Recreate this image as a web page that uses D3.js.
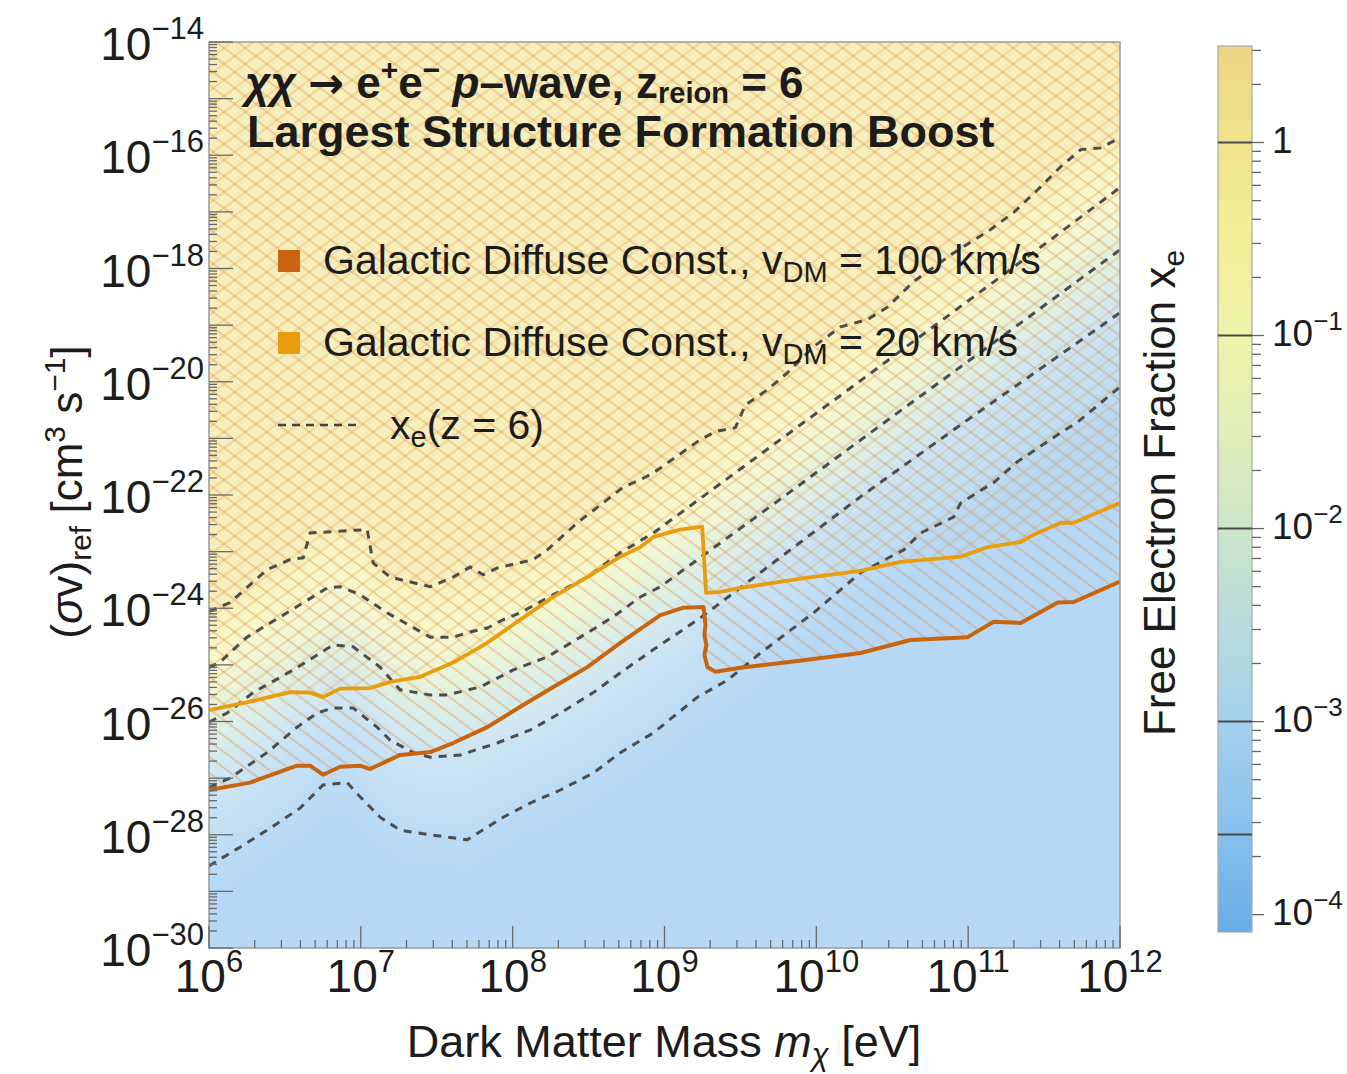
<!DOCTYPE html>
<html>
<head>
<meta charset="utf-8">
<script src="https://cdn.jsdelivr.net/npm/d3@7"></script>
<style>
  body { margin: 0; background: #fff; }
  svg { display: block; }
  text { font-family: "Liberation Sans", Arial, Helvetica, sans-serif; fill: #1c1c1c; }
</style>
</head>
<body>
<svg id="chart" width="1347" height="1074"></svg>
<script>
// ---- Data: [log10(m_chi / eV), log10(<sigma v>_ref / cm^3 s^-1)] ----

// Galactic diffuse constraint, v_DM = 100 km/s
const limit100 = [[6.000,-27.21],[6.270,-27.08],[6.580,-26.78],[6.666,-26.78],[6.751,-26.94],[6.864,-26.80],
  [6.995,-26.78],[7.061,-26.84],[7.259,-26.59],[7.457,-26.54],[7.608,-26.38],[7.833,-26.10],[8.050,-25.74],
  [8.268,-25.39],[8.492,-25.04],[8.709,-24.61],[8.973,-24.12],[9.125,-23.99],[9.257,-23.98],[9.270,-24.29],
  [9.263,-24.47],[9.276,-24.65],[9.263,-24.82],[9.283,-25.04],[9.336,-25.12],[9.500,-25.05],[9.942,-24.91],
  [10.291,-24.79],[10.621,-24.56],[10.997,-24.51],[11.168,-24.24],[11.346,-24.26],[11.590,-23.90],
  [11.695,-23.89],[12.000,-23.53]];

// Galactic diffuse constraint, v_DM = 20 km/s
const limit20 = [[6.000,-25.80],[6.270,-25.65],[6.534,-25.48],[6.666,-25.49],[6.751,-25.57],[6.864,-25.42],
  [7.061,-25.41],[7.193,-25.30],[7.391,-25.21],[7.608,-24.96],[7.833,-24.61],[8.050,-24.20],[8.268,-23.80],
  [8.492,-23.45],[8.709,-23.09],[8.841,-22.92],[8.927,-22.74],[9.105,-22.61],[9.248,-22.56],[9.274,-23.73],
  [9.369,-23.71],[9.500,-23.64],[9.942,-23.46],[10.291,-23.34],[10.555,-23.18],[10.951,-23.09],
  [11.129,-22.92],[11.346,-22.83],[11.432,-22.70],[11.610,-22.49],[11.695,-22.49],[12.000,-22.14]];

// Contours of the free electron fraction x_e at z = 6
const contourLevels = [1, 0.1, 0.01, 1e-3, 2.6e-4];
const contourXe1 = [[6.000,-24.06],[6.138,-23.90],[6.382,-23.32],[6.534,-23.14],[6.620,-23.11],[6.666,-22.67],
  [7.042,-22.61],[7.081,-23.20],[7.193,-23.45],[7.457,-23.62],[7.608,-23.45],[7.720,-23.27],[7.806,-23.41],
  [7.898,-23.29],[8.136,-23.14],[8.228,-22.97],[8.426,-22.49],[8.624,-22.08],[8.729,-21.86],[8.841,-21.73],
  [8.927,-21.61],[9.237,-21.02],[9.336,-20.88],[9.467,-20.81],[9.533,-20.41],[9.678,-20.14],[9.810,-19.84],
  [9.982,-19.38],[10.160,-19.03],[10.338,-18.90],[10.469,-18.68],[10.641,-18.23],[10.885,-17.76],
  [11.148,-17.31],[11.300,-17.01],[11.458,-16.61],[11.610,-16.20],[11.742,-15.90],[11.873,-15.87],[12.000,-15.69]];
const contourXe01 = [[6.000,-25.05],[6.073,-24.95],[6.250,-24.51],[6.514,-24.08],[6.778,-23.64],[6.864,-23.62],
  [6.995,-23.76],[7.173,-24.08],[7.457,-24.51],[7.608,-24.51],[7.720,-24.42],[7.833,-24.35],[7.938,-24.20],
  [8.050,-24.08],[8.268,-23.76],[8.492,-23.45],[8.709,-23.02],[8.927,-22.67],[9.566,-21.41],[10.226,-20.11],
  [10.885,-18.80],[11.544,-17.49],[12.000,-16.57]];
const contourXe001 = [[6.000,-26.01],[6.119,-25.85],[6.290,-25.49],[6.554,-25.09],[6.817,-24.65],[6.949,-24.68],
  [7.127,-25.04],[7.259,-25.44],[7.457,-25.53],[7.569,-25.53],[7.786,-25.39],[8.004,-25.09],[8.228,-24.86],
  [8.446,-24.51],[8.663,-24.15],[8.841,-23.80],[8.973,-23.62],[9.632,-22.33],[10.555,-20.51],[11.214,-19.22],
  [12.000,-17.67]];
const contourXe0001 = [[6.000,-27.16],[6.138,-27.00],[6.382,-26.55],[6.580,-26.10],[6.712,-25.85],[6.817,-25.76],
  [6.949,-25.76],[7.107,-26.10],[7.193,-26.33],[7.345,-26.55],[7.457,-26.63],[7.655,-26.59],[7.898,-26.38],
  [8.116,-26.15],[8.314,-25.85],[8.531,-25.49],[8.709,-25.14],[8.927,-24.73],[9.237,-24.17],[10.291,-22.03],
  [10.951,-20.76],[12.000,-18.78]];
const contourXe00026 = [[6.000,-28.55],[6.204,-28.22],[6.382,-27.92],[6.600,-27.53],[6.751,-27.12],[6.910,-27.08],
  [6.995,-27.33],[7.127,-27.69],[7.259,-27.92],[7.457,-28.00],[7.701,-28.09],[7.938,-27.69],[8.116,-27.44],
  [8.314,-27.21],[8.531,-26.91],[8.709,-26.55],[8.927,-26.20],[9.217,-25.57],[9.415,-25.27],[9.632,-24.79],
  [9.982,-24.08],[10.291,-23.37],[10.575,-22.97],[10.687,-22.67],[10.904,-22.39],[10.951,-22.14],
  [11.168,-21.78],[11.326,-21.41],[11.610,-20.90],[11.722,-20.71],[12.000,-20.09]];

// Axis ticks
const massTicks = [1e6, 1e7, 1e8, 1e9, 1e10, 1e11, 1e12];
const svLabelExp = [-14, -16, -18, -20, -22, -24, -26, -28, -30];
const barLabels = [{v: 1, t: "1"}, {v: 1e-1, e: "−1"}, {v: 1e-2, e: "−2"}, {v: 1e-3, e: "−3"}, {v: 1e-4, e: "−4"}];

// Colour map for x_e (log10 stops)
const cmapStops = [-4.09, -3.5, -3.0, -2.5, -2.0, -1.5, -1.0, -0.5, 0.0, 0.5];
const cmapColors = ["#68ace8","#8cc3ee","#a5d0ec","#b8dcdc","#cde5c9","#e0eeb8","#eef3a8","#f2ee98","#f1e38c","#edd585"];

// ---- Layout ----
const svg = d3.select("#chart");
const X0 = 209, X1 = 1120, Y0 = 42, Y1 = 948;
const x = d3.scaleLog().domain([1e6, 1e12]).range([X0, X1]);
const y = d3.scaleLog().domain([1e-30, 1e-14]).range([Y1, Y0]);
const cmap = d3.scaleLinear().domain(cmapStops).range(cmapColors).interpolate(d3.interpolateRgb).clamp(true);
const toXY = p => [x(10 ** p[0]), y(10 ** p[1])];

const defs = svg.append("defs");
defs.append("clipPath").attr("id", "plotClip")
  .append("rect").attr("x", X0).attr("y", Y0).attr("width", X1 - X0).attr("height", Y1 - Y0);

// ---- x_e field, interpolated between the contour curves ----
const contours = [contourXe1, contourXe01, contourXe001, contourXe0001, contourXe00026];
const levelsLog = contourLevels.map(Math.log10);
function lineAt(pts, lm) {
  if (lm <= pts[0][0]) return pts[0][1];
  for (let k = 0; k < pts.length - 1; k++) {
    const a = pts[k], b = pts[k + 1];
    if (lm >= a[0] && lm <= b[0]) {
      if (b[0] === a[0]) return a[1];
      return a[1] + (lm - a[0]) / (b[0] - a[0]) * (b[1] - a[1]);
    }
  }
  return pts[pts.length - 1][1];
}
function logXe(ls, c) {
  if (ls >= c[0]) return Math.min(0.12, levelsLog[0] + (ls - c[0]) * 0.2);
  for (let k = 0; k < c.length - 1; k++) {
    if (ls >= c[k + 1]) {
      return levelsLog[k + 1] + (ls - c[k + 1]) / (c[k] - c[k + 1]) * (levelsLog[k] - levelsLog[k + 1]);
    }
  }
  return Math.max(-3.72, levelsLog[4] - (c[4] - ls) * 0.25);
}
const W = X1 - X0, H = Y1 - Y0;
const canvas = document.createElement("canvas");
canvas.width = W; canvas.height = H;
const ctx = canvas.getContext("2d");
const img = ctx.createImageData(W, H);
const lut = d3.range(600).map(i => d3.rgb(cmap(-4.09 + i / 599 * 4.59)));
const fieldAlpha = 0.56;
for (let i = 0; i < W; i++) {
  const lm = Math.log10(x.invert(X0 + i + 0.5));
  const c = contours.map(pts => lineAt(pts, lm));
  for (let j = 0; j < H; j++) {
    const ls = Math.log10(y.invert(Y0 + j + 0.5));
    const v = logXe(ls, c);
    const col = lut[Math.max(0, Math.min(599, Math.round((v + 4.09) / 4.59 * 599)))];
    const o = (j * W + i) * 4;
    img.data[o] = 255 + (col.r - 255) * fieldAlpha;
    img.data[o + 1] = 255 + (col.g - 255) * fieldAlpha;
    img.data[o + 2] = 255 + (col.b - 255) * fieldAlpha;
    img.data[o + 3] = 255;
  }
}
ctx.putImageData(img, 0, 0);
svg.append("image").attr("x", X0).attr("y", Y0).attr("width", W).attr("height", H)
  .attr("preserveAspectRatio", "none").attr("href", canvas.toDataURL());

// ---- Hatched exclusion regions ----
function hatch(id, angle, color) {
  const p = defs.append("pattern").attr("id", id).attr("patternUnits", "userSpaceOnUse")
    .attr("width", 60).attr("height", 12.8).attr("patternTransform", `rotate(${angle})`);
  p.append("line").attr("x1", 0).attr("x2", 60).attr("y1", 6.4).attr("y2", 6.4)
    .attr("stroke", color).attr("stroke-width", 1.7);
}
hatch("hatch100", 36.87, "rgba(210,125,48,0.4)");
hatch("hatch20", -36.87, "rgba(232,155,48,0.4)");
const plot = svg.append("g").attr("clip-path", "url(#plotClip)");
function regionAbove(pts) {
  const xy = pts.map(toXY);
  return "M" + xy.map(d => d.join(",")).join("L") + `L${X1 + 2},${Y0 - 2}L${X0 - 2},${Y0 - 2}Z`;
}
plot.append("path").attr("d", regionAbove(limit100)).attr("fill", "url(#hatch100)");
plot.append("path").attr("d", regionAbove(limit20)).attr("fill", "url(#hatch20)");

// ---- Contour lines ----
const line = d3.line().x(d => x(10 ** d[0])).y(d => y(10 ** d[1]));
contours.forEach(pts => {
  plot.append("path").attr("d", line(pts)).attr("fill", "none")
    .attr("stroke", "#4d4d4d").attr("stroke-width", 3).attr("stroke-dasharray", "8,7");
});

// ---- Constraint curves ----
plot.append("path").attr("d", line(limit100)).attr("fill", "none")
  .attr("stroke", "#c9650e").attr("stroke-width", 4).attr("stroke-linejoin", "round");
plot.append("path").attr("d", line(limit20)).attr("fill", "none")
  .attr("stroke", "#e89d0e").attr("stroke-width", 3.8).attr("stroke-linejoin", "round");

// ---- Frame and ticks ----
svg.append("rect").attr("x", X0).attr("y", Y0).attr("width", W).attr("height", H)
  .attr("fill", "none").attr("stroke", "#9a9a9a").attr("stroke-width", 1.5);
const tickG = svg.append("g").attr("stroke", "#6a6a6a").attr("stroke-width", 1.3);
for (let e = -30; e <= -14; e++) {
  tickG.append("line").attr("x1", X0).attr("x2", X0 + 24).attr("y1", y(10 ** e)).attr("y2", y(10 ** e));
  if (e < -14) for (let k = 2; k <= 9; k++) {
    const yy = y(k * 10 ** e);
    tickG.append("line").attr("x1", X0).attr("x2", X0 + 8).attr("y1", yy).attr("y2", yy);
  }
}
for (let e = 6; e <= 12; e++) {
  tickG.append("line").attr("y1", Y1).attr("y2", Y1 - 22).attr("x1", x(10 ** e)).attr("x2", x(10 ** e));
  if (e < 12) for (let k = 2; k <= 9; k++) {
    const xx = x(k * 10 ** e);
    tickG.append("line").attr("y1", Y1).attr("y2", Y1 - 8).attr("x1", xx).attr("x2", xx);
  }
}

// Tick labels
svLabelExp.forEach(e => {
  const t = svg.append("text").attr("x", 204).attr("y", y(10 ** e) + 18).attr("text-anchor", "end");
  t.append("tspan").attr("font-size", 46).text("10");
  t.append("tspan").attr("font-size", 31).attr("dy", -21).text("−" + (-e));
});
massTicks.forEach(v => {
  const e = Math.round(Math.log10(v));
  const t = svg.append("text").attr("x", x(v)).attr("y", 992).attr("text-anchor", "middle");
  t.append("tspan").attr("font-size", 46).text("10");
  t.append("tspan").attr("font-size", 31).attr("dy", -20).text(e);
});

// Axis titles
const xt = svg.append("text").attr("x", 664).attr("y", 1057).attr("text-anchor", "middle").attr("font-size", 45);
xt.append("tspan").text("Dark Matter Mass ");
xt.append("tspan").attr("font-style", "italic").text("m");
xt.append("tspan").attr("font-style", "italic").attr("font-size", 31).attr("dy", 8).text("χ");
xt.append("tspan").attr("dy", -8).text(" [eV]");

const yt = svg.append("text").attr("transform", "translate(82,492) rotate(-90)")
  .attr("text-anchor", "middle").attr("font-size", 44);
yt.append("tspan").text("(");
yt.append("tspan").attr("font-style", "italic").text("σ");
yt.append("tspan").text("v)");
yt.append("tspan").attr("font-size", 30).attr("dy", 9).text("ref");
yt.append("tspan").attr("dy", -9).text(" [cm");
yt.append("tspan").attr("font-size", 30).attr("dy", -17).text("3");
yt.append("tspan").attr("dy", 17).text(" s");
yt.append("tspan").attr("font-size", 30).attr("dy", -17).text("−1");
yt.append("tspan").attr("dy", 17).text("]");

// ---- Title ----
const t1 = svg.append("text").attr("x", 245).attr("y", 98).attr("font-size", 44).attr("font-weight", "bold");
t1.append("tspan").attr("font-style", "italic").text("χχ");
t1.append("tspan").text(" ");
t1.append("tspan").attr("font-family", "'DejaVu Sans', sans-serif").attr("font-size", 43).text("→");
t1.append("tspan").text(" e");
t1.append("tspan").attr("font-size", 30).attr("dy", -18).text("+");
t1.append("tspan").attr("dy", 18).text("e");
t1.append("tspan").attr("font-size", 30).attr("dy", -18).text("−");
t1.append("tspan").attr("dy", 18).text(" ");
t1.append("tspan").attr("font-style", "italic").text("p");
t1.append("tspan").text("–wave, z");
t1.append("tspan").attr("font-size", 29).attr("dy", 5).text("reion");
t1.append("tspan").attr("dy", -5).text(" = 6");
svg.append("text").attr("x", 247).attr("y", 147).attr("font-size", 45).attr("font-weight", "bold")
  .text("Largest Structure Formation Boost");

// ---- Legend ----
const legendItems = [
  {color: "#c9650e", v: "100", yc: 261},
  {color: "#e89d0e", v: "20", yc: 343}
];
legendItems.forEach(d => {
  svg.append("rect").attr("x", 278).attr("y", d.yc - 11).attr("width", 22).attr("height", 22).attr("fill", d.color);
  const t = svg.append("text").attr("x", 323).attr("y", d.yc + 13).attr("font-size", 41);
  t.append("tspan").text("Galactic Diffuse Const., v");
  t.append("tspan").attr("font-size", 29).attr("dy", 8).text("DM");
  t.append("tspan").attr("dy", -8).text(` = ${d.v} km/s`);
});
svg.append("line").attr("x1", 278).attr("x2", 362).attr("y1", 425).attr("y2", 425)
  .attr("stroke", "#444").attr("stroke-width", 2.4).attr("stroke-dasharray", "8,6");
const lt = svg.append("text").attr("x", 390).attr("y", 439).attr("font-size", 41);
lt.append("tspan").text("x");
lt.append("tspan").attr("font-size", 29).attr("dy", 8).text("e");
lt.append("tspan").attr("dy", -8).text("(z = 6)");

// ---- Colour bar ----
const BX = 1218, BW = 34, BT = 46, BB = 932;
const cb = d3.scaleLog().domain([10 ** -4.09, 10 ** 0.5]).range([BB, BT]);
const grad = defs.append("linearGradient").attr("id", "xeGrad").attr("x1", 0).attr("x2", 0).attr("y1", 1).attr("y2", 0);
d3.range(0, 47).forEach(i => {
  const v = -4.09 + i / 46 * 4.59;
  grad.append("stop").attr("offset", i / 46).attr("stop-color", cmap(v));
});
svg.append("rect").attr("x", BX).attr("y", BT).attr("width", BW).attr("height", BB - BT)
  .attr("fill", "url(#xeGrad)").attr("stroke", "#a8a8a8").attr("stroke-width", 1.2);
contourLevels.forEach(v => {
  svg.append("line").attr("x1", BX).attr("x2", BX + BW).attr("y1", cb(v)).attr("y2", cb(v))
    .attr("stroke", "#4a4a4a").attr("stroke-width", 2);
});
const cbTicks = svg.append("g").attr("stroke", "#666").attr("stroke-width", 1.3);
for (let e = -4; e <= 0; e++) {
  for (let k = 1; k <= 9; k++) {
    const v = k * 10 ** e;
    if (v > 10 ** 0.5 || v < 10 ** -4.09) continue;
    const yy = cb(v);
    cbTicks.append("line").attr("x1", BX + BW).attr("x2", BX + BW + (k === 1 ? 12 : 9)).attr("y1", yy).attr("y2", yy);
  }
}
barLabels.forEach(d => {
  const t = svg.append("text").attr("x", 1272).attr("y", cb(d.v) + 10).attr("font-size", 37);
  if (d.t) { t.text(d.t); return; }
  t.append("tspan").text("10");
  t.append("tspan").attr("font-size", 26).attr("dy", -16).text(d.e);
});
const rt = svg.append("text").attr("transform", "translate(1175,493) rotate(-90)")
  .attr("text-anchor", "middle").attr("font-size", 44);
rt.append("tspan").text("Free Electron Fraction x");
rt.append("tspan").attr("font-size", 30).attr("dy", 9).text("e");
</script>
</body>
</html>
